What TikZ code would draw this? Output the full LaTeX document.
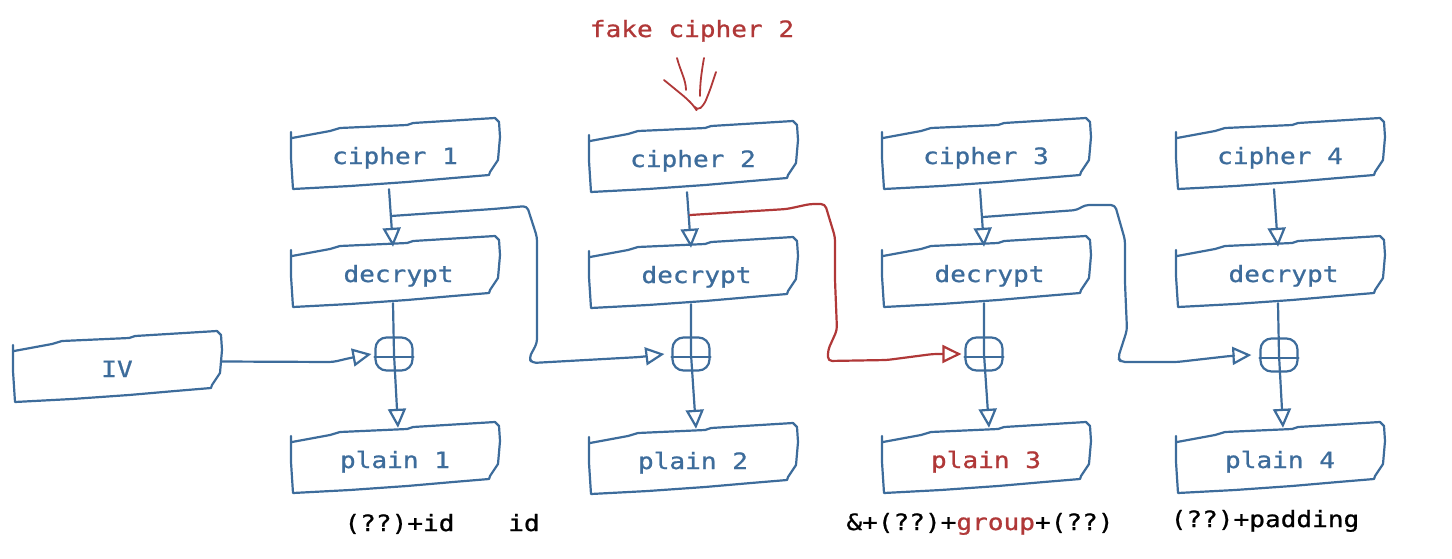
\documentclass[tikz,border=0pt]{standalone}
\usepackage{fontspec}
\newfontfamily\skfont[FakeStretch=1.16,FakeBold=0.9]{DejaVu Sans Mono}
\usetikzlibrary{arrows.meta,calc}
\definecolor{skblue}{RGB}{61,108,155}
\definecolor{skred}{RGB}{176,56,56}
\newcommand\skbox[5]{%
  \node[boxnode,text=#5] (#1) at (#2+105,#3+35.5) {#4};
  \draw[skline,shift={(#2,#3)}] (1,14) -- (1,40) -- (3,71) -- (60,68) -- (117,64) -- (163,60) -- (199,57) -- (200,54) -- (208,42) -- (210,19) -- (209,4) -- (205,0) -- (123,5) -- (117,7) -- (50,10) -- (40,13) -- (2,20);
}
\begin{document}
\begin{tikzpicture}[x=1pt,y=-1pt,
  skline/.style={draw=skblue,line width=2.2pt,line cap=round,line join=round},
  redline/.style={draw=skred,line width=2.2pt,line cap=round,line join=round},
  tip/.style={-{Triangle[open,length=19pt,width=18pt]}},
  boxnode/.style={minimum width=210pt,minimum height=71pt,inner sep=0pt,text height=25pt,text depth=4pt,font={\skfont\fontsize{22.5}{27}\selectfont}},
  xornode/.style={draw=skblue,line width=2.2pt,rounded corners=11pt,minimum width=37pt,minimum height=33pt,inner sep=0pt},
  lbl/.style={anchor=base,inner sep=0pt,font={\skfont\fontsize{22.5}{27}\selectfont}}]
\useasboundingbox (0,0) rectangle (1452,558);

% boxes
\skbox{c1}{290}{118}{cipher 1}{skblue}
\skbox{c2}{588}{121}{cipher 2}{skblue}
\skbox{c3}{881}{118}{cipher 3}{skblue}
\skbox{c4}{1175}{118}{cipher 4}{skblue}
\skbox{d1}{290}{236}{\hspace*{7pt}decrypt}{skblue}
\skbox{d2}{588}{237}{\hspace*{7pt}decrypt}{skblue}
\skbox{d3}{881}{236}{\hspace*{7pt}decrypt}{skblue}
\skbox{d4}{1175}{236}{\hspace*{7pt}decrypt}{skblue}
\skbox{p1}{290}{422}{plain 1}{skblue}
\skbox{p2}{588}{423}{plain 2}{skblue}
\skbox{p3}{881}{422}{plain 3}{skred}
\skbox{p4}{1175}{422}{plain 4}{skblue}
\skbox{iv}{12}{331}{IV}{skblue}

% xor nodes
\node[xornode] (x1) at (394,354) {};
\node[xornode] (x2) at (691,354) {};
\node[xornode] (x3) at (984,354) {};
\node[xornode] (x4) at (1279,355) {};
\foreach \n in {x1,x2,x3,x4}{
  \draw[skline] ([yshift=-3pt]\n.west) -- ([yshift=-3pt]\n.east);
}

% cipher -> decrypt -> xor -> plain
\foreach \i in {1,2,3,4}{
  \draw[skline,tip] ([xshift=-6pt]c\i.south) -- ([xshift=-2pt,yshift=-11pt]d\i.north);
  \draw[skline,tip] ([xshift=-2pt,yshift=4pt]d\i.south) -- (x\i.center) -- ([xshift=3pt,yshift=-6pt]p\i.north);
}

% branch points
\coordinate (b1) at (391,216);
\coordinate (b2) at (690,215);
\coordinate (b3) at (983,217);

% IV -> xor1
\draw[skline,tip,rounded corners=4pt] ([yshift=5pt]iv.east) -- (333,362) -- (350,358) -- ([xshift=-3pt]x1.west);

% chaining
\draw[skline,tip,rounded corners=4pt] (b1) -- (493,209) -- (527,206) -- (537,237) -- (537,343) -- (529,358) -- (532,363) -- (640,357) -- ([xshift=-7pt]x2.west);
\draw[redline,tip,rounded corners=4pt] (b2) -- (787,209) -- (810,204) -- (825,204) -- (835,237) -- (835,280) -- (837,330) -- (828,350) -- (828,361) -- (887,360) -- (933,354) -- ([xshift=-3pt]x3.west);
\draw[skline,tip,rounded corners=4pt] (b3) -- (1077,210) -- (1085,205) -- (1115,205) -- (1125,240) -- (1125,283) -- (1127,330) -- (1118,358) -- (1121,362) -- (1177,362) -- (1230,356) -- ([xshift=-8pt]x4.west);

% fake cipher 2
\node[lbl,text=skred] (fake) at (692,37) {fake cipher 2};
\draw[redline,line width=1.8pt] (677,58) .. controls (680,70) and (686,80) .. (686,90);
\draw[redline,line width=1.8pt] (704,58) .. controls (701,75) and (700,85) .. (700,96);
\draw[redline,line width=1.8pt,rounded corners=5pt] (664,80) -- (686,98) -- (694,106) -- (697,111) -- (704,105) -- (710,90) -- (716,72);

% bottom labels
\node[lbl] (l1) at (399.5,531) {(??)+id};
\node[lbl] (l2) at (524,531) {id};
\node[lbl] (l3) at (980,530) {\&+(??)+\textcolor{skred}{group}+(??)};
\node[lbl] (l4) at (1265,527) {(??)+padding};
\end{tikzpicture}
\end{document}
